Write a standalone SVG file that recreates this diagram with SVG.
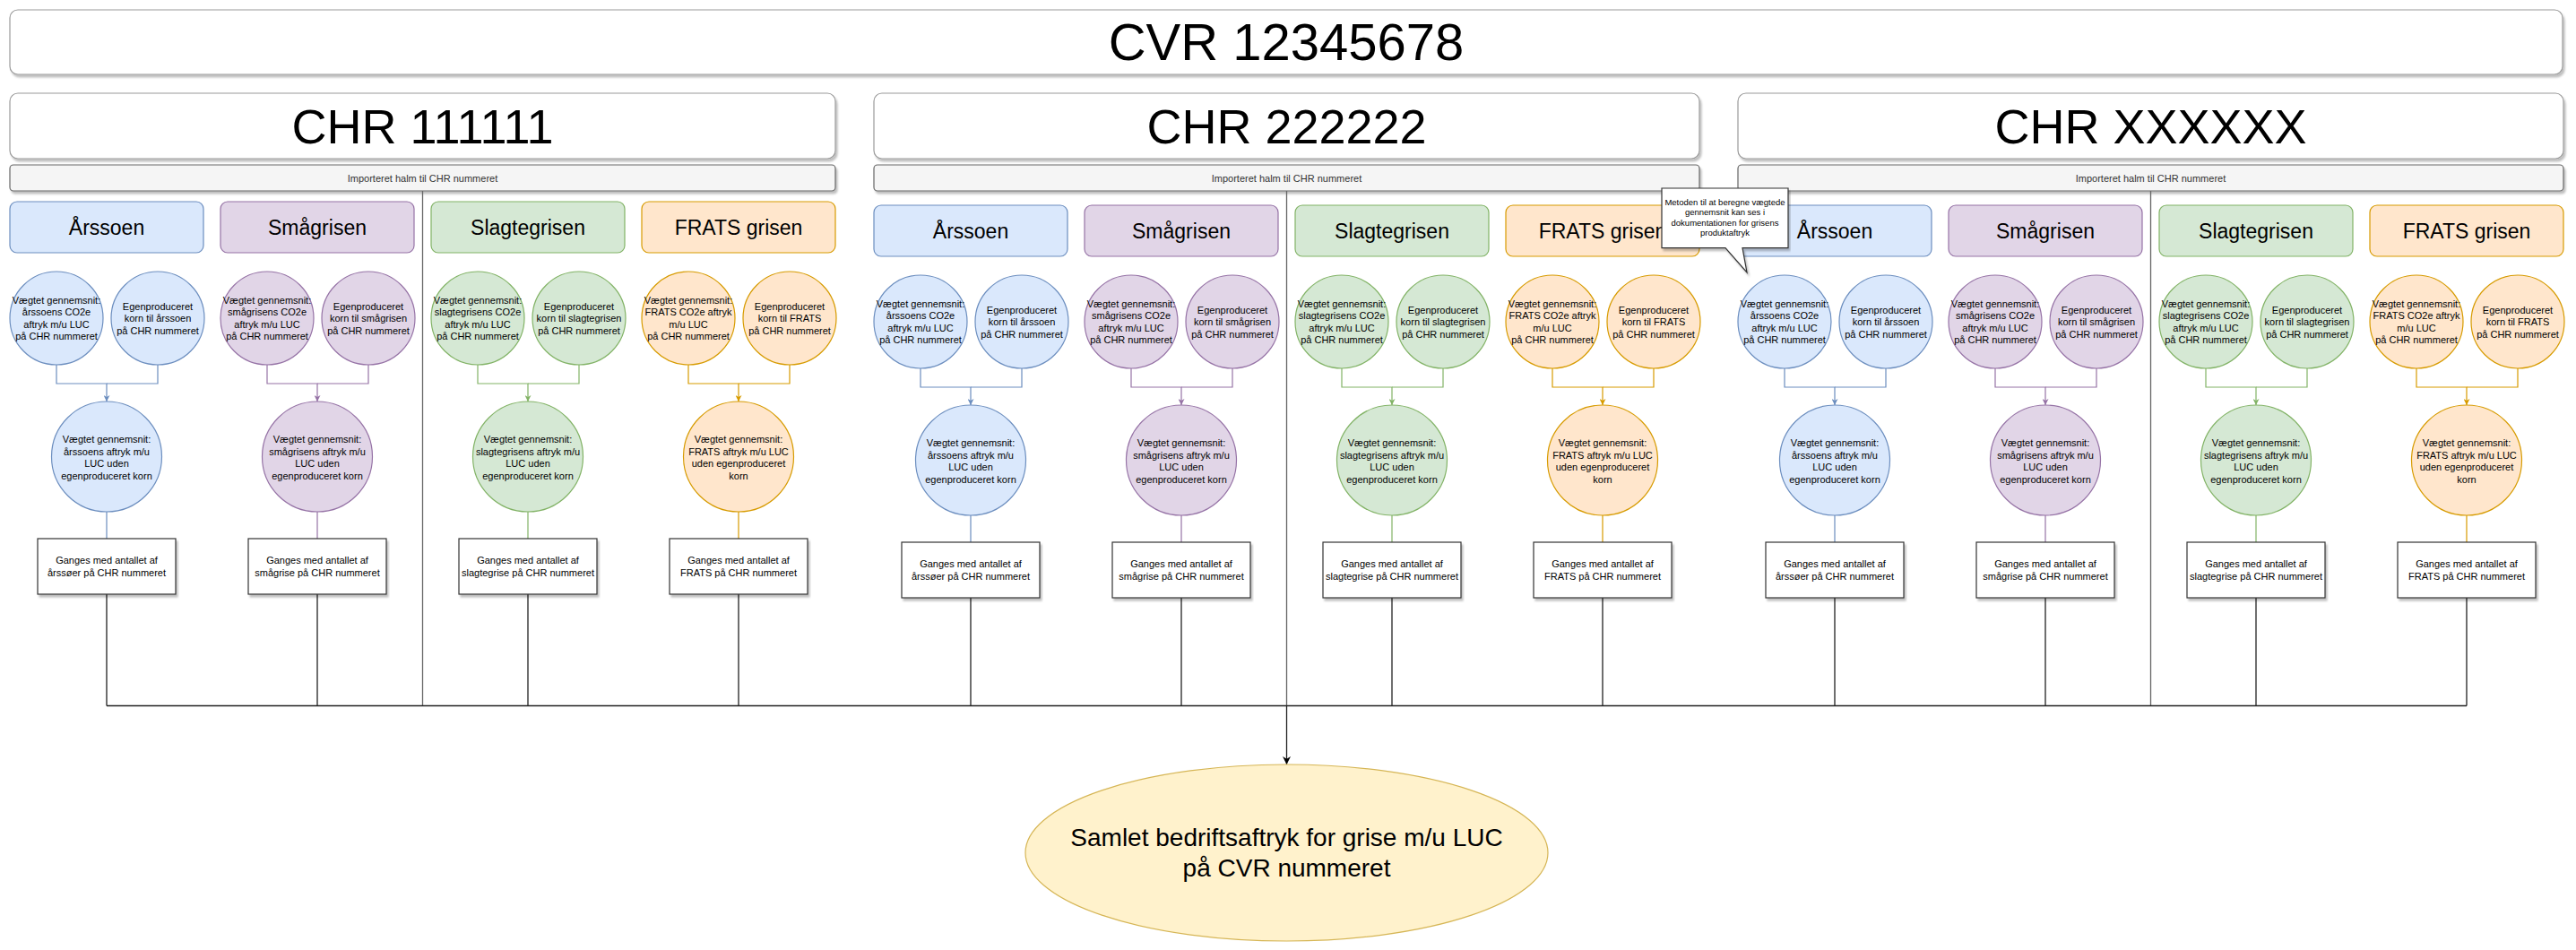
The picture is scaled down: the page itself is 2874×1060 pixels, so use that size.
<svg xmlns="http://www.w3.org/2000/svg" width="2874" height="1060" viewBox="0 0 2874 1060">
<defs>
<style>
.t{font-family:"Liberation Sans",Arial,Helvetica,sans-serif;text-anchor:middle;fill:#000}
.f11{font-size:11px}
.hd{font-size:23px}
.ttl{font-size:54px}
.cvr{font-size:58px}
.fin{font-size:28px}
.cal{font-size:9.5px}
.halmt{font-size:11px;fill:#333}
.frame{fill:#fff;stroke:#9a9a9a;stroke-width:1.2}
.halm{fill:#f5f5f5;stroke:#666;stroke-width:1.2}
.box{fill:#fff;stroke:#333;stroke-width:1.2}
.b{fill:#dae8fc;stroke:#6c8ebf;stroke-width:1.2}
.p{fill:#e1d5e7;stroke:#9673a6;stroke-width:1.2}
.g{fill:#d5e8d4;stroke:#82b366;stroke-width:1.2}
.o{fill:#ffe6cc;stroke:#d79b00;stroke-width:1.2}
.y{fill:#fff2cc;stroke:#d6b656;stroke-width:1.2}
.lb{fill:none;stroke:#6c8ebf;stroke-width:1.2}
.lp{fill:none;stroke:#9673a6;stroke-width:1.2}
.lg{fill:none;stroke:#82b366;stroke-width:1.2}
.lo{fill:none;stroke:#d79b00;stroke-width:1.2}
.lk{fill:none;stroke:#222;stroke-width:1.3}
.div{fill:none;stroke:#666;stroke-width:1.3}
</style>
<filter id="sh" x="-2%" y="-10%" width="104%" height="130%"><feDropShadow dx="2" dy="3" stdDeviation="1.2" flood-color="#000" flood-opacity="0.25"/></filter>
<marker id="ab" viewBox="0 0 10 10" refX="10" refY="5" markerWidth="7" markerHeight="7" markerUnits="userSpaceOnUse" orient="auto"><path d="M0,0L10,5L0,10L3,5z" fill="#6c8ebf"/></marker>
<marker id="ap" viewBox="0 0 10 10" refX="10" refY="5" markerWidth="7" markerHeight="7" markerUnits="userSpaceOnUse" orient="auto"><path d="M0,0L10,5L0,10L3,5z" fill="#9673a6"/></marker>
<marker id="ag" viewBox="0 0 10 10" refX="10" refY="5" markerWidth="7" markerHeight="7" markerUnits="userSpaceOnUse" orient="auto"><path d="M0,0L10,5L0,10L3,5z" fill="#82b366"/></marker>
<marker id="ao" viewBox="0 0 10 10" refX="10" refY="5" markerWidth="7" markerHeight="7" markerUnits="userSpaceOnUse" orient="auto"><path d="M0,0L10,5L0,10L3,5z" fill="#d79b00"/></marker>
<marker id="ak" viewBox="0 0 10 10" refX="10" refY="5" markerWidth="9" markerHeight="9" markerUnits="userSpaceOnUse" orient="auto"><path d="M0,0L10,5L0,10L3,5z" fill="#000"/></marker>
</defs>
<rect width="2874" height="1060" fill="#fff"/>

<!-- CVR -->
<g id="cvr"><rect class="frame" filter="url(#sh)" x="11" y="11" width="2848" height="72" rx="9"/><text class="t cvr" x="1435" y="67">CVR 12345678</text></g>

<!-- CHR frames -->
<g id="chr1"><rect class="frame" filter="url(#sh)" x="11" y="104" width="921" height="73" rx="9"/><text class="t ttl" x="471.5" y="159.5">CHR 111111</text></g>
<g id="chr2"><rect class="frame" filter="url(#sh)" x="975" y="104" width="921" height="73" rx="9"/><text class="t ttl" x="1435.5" y="159.5">CHR 222222</text></g>
<g id="chr3"><rect class="frame" filter="url(#sh)" x="1939" y="104" width="921" height="73" rx="9"/><text class="t ttl" x="2399.5" y="159.5">CHR XXXXXX</text></g>

<g id="halm1"><rect class="halm" filter="url(#sh)" x="11" y="184" width="921" height="29" rx="4"/><text class="t halmt" x="471.5" y="203">Importeret halm til CHR nummeret</text></g>
<g id="halm2"><rect class="halm" filter="url(#sh)" x="975" y="184" width="921" height="29" rx="4"/><text class="t halmt" x="1435.5" y="203">Importeret halm til CHR nummeret</text></g>
<g id="halm3"><rect class="halm" filter="url(#sh)" x="1939" y="184" width="921" height="29" rx="4"/><text class="t halmt" x="2399.5" y="203">Importeret halm til CHR nummeret</text></g>

<!-- Connectors -->
<g id="connectors">
<path class="div" d="M471.5,213V787.5M1435.5,213V787.5M2399.5,213V787.5"/>
<path class="lk" d="M119,787.5H2752"/>
<path class="lk" d="M119,663V787.5M354,663V787.5M589,663V787.5M824,663V787.5"/>
<path class="lk" d="M1083,667V787.5M1318,667V787.5M1553,667V787.5M1788,667V787.5"/>
<path class="lk" d="M2047,667V787.5M2282,667V787.5M2517,667V787.5M2752,667V787.5"/>
<path class="lk" d="M1435.5,787.5V853" marker-end="url(#ak)"/>
<g transform="translate(11,0)"><path class="lb" d="M52,407V428H108V448" marker-end="url(#ab)"/><path class="lb" d="M165,407V428H108M108,571V601"/></g>
<g transform="translate(246,0)"><path class="lp" d="M52,407V428H108V448" marker-end="url(#ap)"/><path class="lp" d="M165,407V428H108M108,571V601"/></g>
<g transform="translate(481,0)"><path class="lg" d="M52,407V428H108V448" marker-end="url(#ag)"/><path class="lg" d="M165,407V428H108M108,571V601"/></g>
<g transform="translate(716,0)"><path class="lo" d="M52,407V428H108V448" marker-end="url(#ao)"/><path class="lo" d="M165,407V428H108M108,571V601"/></g>
<g transform="translate(975,4)"><path class="lb" d="M52,407V428H108V448" marker-end="url(#ab)"/><path class="lb" d="M165,407V428H108M108,571V601"/></g>
<g transform="translate(1210,4)"><path class="lp" d="M52,407V428H108V448" marker-end="url(#ap)"/><path class="lp" d="M165,407V428H108M108,571V601"/></g>
<g transform="translate(1445,4)"><path class="lg" d="M52,407V428H108V448" marker-end="url(#ag)"/><path class="lg" d="M165,407V428H108M108,571V601"/></g>
<g transform="translate(1680,4)"><path class="lo" d="M52,407V428H108V448" marker-end="url(#ao)"/><path class="lo" d="M165,407V428H108M108,571V601"/></g>
<g transform="translate(1939,4)"><path class="lb" d="M52,407V428H108V448" marker-end="url(#ab)"/><path class="lb" d="M165,407V428H108M108,571V601"/></g>
<g transform="translate(2174,4)"><path class="lp" d="M52,407V428H108V448" marker-end="url(#ap)"/><path class="lp" d="M165,407V428H108M108,571V601"/></g>
<g transform="translate(2409,4)"><path class="lg" d="M52,407V428H108V448" marker-end="url(#ag)"/><path class="lg" d="M165,407V428H108M108,571V601"/></g>
<g transform="translate(2644,4)"><path class="lo" d="M52,407V428H108V448" marker-end="url(#ao)"/><path class="lo" d="M165,407V428H108M108,571V601"/></g>
</g>

<!-- CHR 1 groups -->
<g id="c1-arssoen" transform="translate(11,0)">
<g id="c1-a-head"><rect class="b" x="0" y="225" width="216" height="57" rx="8"/><text class="t hd" x="108" y="262">Årssoen</text></g>
<g id="c1-a-l"><circle class="b" cx="52" cy="355" r="52"/><text class="t f11"><tspan x="52" y="339">Vægtet gennemsnit:</tspan><tspan x="52" y="352.3">årssoens CO2e</tspan><tspan x="52" y="365.7">aftryk m/u LUC</tspan><tspan x="52" y="379">på CHR nummeret</tspan></text></g>
<g id="c1-a-r"><circle class="b" cx="165" cy="355" r="52"/><text class="t f11"><tspan x="165" y="346">Egenproduceret</tspan><tspan x="165" y="359.3">korn til årssoen</tspan><tspan x="165" y="372.7">på CHR nummeret</tspan></text></g>
<g id="c1-a-m"><circle class="b" cx="108" cy="509.5" r="61.5"/><text class="t f11"><tspan x="108" y="494">Vægtet gennemsnit:</tspan><tspan x="108" y="507.6">årssoens aftryk m/u</tspan><tspan x="108" y="521.2">LUC uden</tspan><tspan x="108" y="534.8">egenproduceret korn</tspan></text></g>
<g id="c1-a-box"><rect class="box" filter="url(#sh)" x="31" y="601" width="154" height="62"/><text class="t f11"><tspan x="108" y="629">Ganges med antallet af</tspan><tspan x="108" y="643">årssøer på CHR nummeret</tspan></text></g>
</g>
<g id="c1-smagrisen" transform="translate(246,0)">
<g id="c1-s-head"><rect class="p" x="0" y="225" width="216" height="57" rx="8"/><text class="t hd" x="108" y="262">Smågrisen</text></g>
<g id="c1-s-l"><circle class="p" cx="52" cy="355" r="52"/><text class="t f11"><tspan x="52" y="339">Vægtet gennemsnit:</tspan><tspan x="52" y="352.3">smågrisens CO2e</tspan><tspan x="52" y="365.7">aftryk m/u LUC</tspan><tspan x="52" y="379">på CHR nummeret</tspan></text></g>
<g id="c1-s-r"><circle class="p" cx="165" cy="355" r="52"/><text class="t f11"><tspan x="165" y="346">Egenproduceret</tspan><tspan x="165" y="359.3">korn til smågrisen</tspan><tspan x="165" y="372.7">på CHR nummeret</tspan></text></g>
<g id="c1-s-m"><circle class="p" cx="108" cy="509.5" r="61.5"/><text class="t f11"><tspan x="108" y="494">Vægtet gennemsnit:</tspan><tspan x="108" y="507.6">smågrisens aftryk m/u</tspan><tspan x="108" y="521.2">LUC uden</tspan><tspan x="108" y="534.8">egenproduceret korn</tspan></text></g>
<g id="c1-s-box"><rect class="box" filter="url(#sh)" x="31" y="601" width="154" height="62"/><text class="t f11"><tspan x="108" y="629">Ganges med antallet af</tspan><tspan x="108" y="643">smågrise på CHR nummeret</tspan></text></g>
</g>
<g id="c1-slagtegrisen" transform="translate(481,0)">
<g id="c1-g-head"><rect class="g" x="0" y="225" width="216" height="57" rx="8"/><text class="t hd" x="108" y="262">Slagtegrisen</text></g>
<g id="c1-g-l"><circle class="g" cx="52" cy="355" r="52"/><text class="t f11"><tspan x="52" y="339">Vægtet gennemsnit:</tspan><tspan x="52" y="352.3">slagtegrisens CO2e</tspan><tspan x="52" y="365.7">aftryk m/u LUC</tspan><tspan x="52" y="379">på CHR nummeret</tspan></text></g>
<g id="c1-g-r"><circle class="g" cx="165" cy="355" r="52"/><text class="t f11"><tspan x="165" y="346">Egenproduceret</tspan><tspan x="165" y="359.3">korn til slagtegrisen</tspan><tspan x="165" y="372.7">på CHR nummeret</tspan></text></g>
<g id="c1-g-m"><circle class="g" cx="108" cy="509.5" r="61.5"/><text class="t f11"><tspan x="108" y="494">Vægtet gennemsnit:</tspan><tspan x="108" y="507.6">slagtegrisens aftryk m/u</tspan><tspan x="108" y="521.2">LUC uden</tspan><tspan x="108" y="534.8">egenproduceret korn</tspan></text></g>
<g id="c1-g-box"><rect class="box" filter="url(#sh)" x="31" y="601" width="154" height="62"/><text class="t f11"><tspan x="108" y="629">Ganges med antallet af</tspan><tspan x="108" y="643">slagtegrise på CHR nummeret</tspan></text></g>
</g>
<g id="c1-frats" transform="translate(716,0)">
<g id="c1-f-head"><rect class="o" x="0" y="225" width="216" height="57" rx="8"/><text class="t hd" x="108" y="262">FRATS grisen</text></g>
<g id="c1-f-l"><circle class="o" cx="52" cy="355" r="52"/><text class="t f11"><tspan x="52" y="339">Vægtet gennemsnit:</tspan><tspan x="52" y="352.3">FRATS CO2e aftryk</tspan><tspan x="52" y="365.7">m/u LUC</tspan><tspan x="52" y="379">på CHR nummeret</tspan></text></g>
<g id="c1-f-r"><circle class="o" cx="165" cy="355" r="52"/><text class="t f11"><tspan x="165" y="346">Egenproduceret</tspan><tspan x="165" y="359.3">korn til FRATS</tspan><tspan x="165" y="372.7">på CHR nummeret</tspan></text></g>
<g id="c1-f-m"><circle class="o" cx="108" cy="509.5" r="61.5"/><text class="t f11"><tspan x="108" y="494">Vægtet gennemsnit:</tspan><tspan x="108" y="507.6">FRATS aftryk m/u LUC</tspan><tspan x="108" y="521.2">uden egenproduceret</tspan><tspan x="108" y="534.8">korn</tspan></text></g>
<g id="c1-f-box"><rect class="box" filter="url(#sh)" x="31" y="601" width="154" height="62"/><text class="t f11"><tspan x="108" y="629">Ganges med antallet af</tspan><tspan x="108" y="643">FRATS på CHR nummeret</tspan></text></g>
</g>

<!-- CHR 2 groups -->
<g id="c2-arssoen" transform="translate(975,4)">
<g id="c2-a-head"><rect class="b" x="0" y="225" width="216" height="57" rx="8"/><text class="t hd" x="108" y="262">Årssoen</text></g>
<g id="c2-a-l"><circle class="b" cx="52" cy="355" r="52"/><text class="t f11"><tspan x="52" y="339">Vægtet gennemsnit:</tspan><tspan x="52" y="352.3">årssoens CO2e</tspan><tspan x="52" y="365.7">aftryk m/u LUC</tspan><tspan x="52" y="379">på CHR nummeret</tspan></text></g>
<g id="c2-a-r"><circle class="b" cx="165" cy="355" r="52"/><text class="t f11"><tspan x="165" y="346">Egenproduceret</tspan><tspan x="165" y="359.3">korn til årssoen</tspan><tspan x="165" y="372.7">på CHR nummeret</tspan></text></g>
<g id="c2-a-m"><circle class="b" cx="108" cy="509.5" r="61.5"/><text class="t f11"><tspan x="108" y="494">Vægtet gennemsnit:</tspan><tspan x="108" y="507.6">årssoens aftryk m/u</tspan><tspan x="108" y="521.2">LUC uden</tspan><tspan x="108" y="534.8">egenproduceret korn</tspan></text></g>
<g id="c2-a-box"><rect class="box" filter="url(#sh)" x="31" y="601" width="154" height="62"/><text class="t f11"><tspan x="108" y="629">Ganges med antallet af</tspan><tspan x="108" y="643">årssøer på CHR nummeret</tspan></text></g>
</g>
<g id="c2-smagrisen" transform="translate(1210,4)">
<g id="c2-s-head"><rect class="p" x="0" y="225" width="216" height="57" rx="8"/><text class="t hd" x="108" y="262">Smågrisen</text></g>
<g id="c2-s-l"><circle class="p" cx="52" cy="355" r="52"/><text class="t f11"><tspan x="52" y="339">Vægtet gennemsnit:</tspan><tspan x="52" y="352.3">smågrisens CO2e</tspan><tspan x="52" y="365.7">aftryk m/u LUC</tspan><tspan x="52" y="379">på CHR nummeret</tspan></text></g>
<g id="c2-s-r"><circle class="p" cx="165" cy="355" r="52"/><text class="t f11"><tspan x="165" y="346">Egenproduceret</tspan><tspan x="165" y="359.3">korn til smågrisen</tspan><tspan x="165" y="372.7">på CHR nummeret</tspan></text></g>
<g id="c2-s-m"><circle class="p" cx="108" cy="509.5" r="61.5"/><text class="t f11"><tspan x="108" y="494">Vægtet gennemsnit:</tspan><tspan x="108" y="507.6">smågrisens aftryk m/u</tspan><tspan x="108" y="521.2">LUC uden</tspan><tspan x="108" y="534.8">egenproduceret korn</tspan></text></g>
<g id="c2-s-box"><rect class="box" filter="url(#sh)" x="31" y="601" width="154" height="62"/><text class="t f11"><tspan x="108" y="629">Ganges med antallet af</tspan><tspan x="108" y="643">smågrise på CHR nummeret</tspan></text></g>
</g>
<g id="c2-slagtegrisen" transform="translate(1445,4)">
<g id="c2-g-head"><rect class="g" x="0" y="225" width="216" height="57" rx="8"/><text class="t hd" x="108" y="262">Slagtegrisen</text></g>
<g id="c2-g-l"><circle class="g" cx="52" cy="355" r="52"/><text class="t f11"><tspan x="52" y="339">Vægtet gennemsnit:</tspan><tspan x="52" y="352.3">slagtegrisens CO2e</tspan><tspan x="52" y="365.7">aftryk m/u LUC</tspan><tspan x="52" y="379">på CHR nummeret</tspan></text></g>
<g id="c2-g-r"><circle class="g" cx="165" cy="355" r="52"/><text class="t f11"><tspan x="165" y="346">Egenproduceret</tspan><tspan x="165" y="359.3">korn til slagtegrisen</tspan><tspan x="165" y="372.7">på CHR nummeret</tspan></text></g>
<g id="c2-g-m"><circle class="g" cx="108" cy="509.5" r="61.5"/><text class="t f11"><tspan x="108" y="494">Vægtet gennemsnit:</tspan><tspan x="108" y="507.6">slagtegrisens aftryk m/u</tspan><tspan x="108" y="521.2">LUC uden</tspan><tspan x="108" y="534.8">egenproduceret korn</tspan></text></g>
<g id="c2-g-box"><rect class="box" filter="url(#sh)" x="31" y="601" width="154" height="62"/><text class="t f11"><tspan x="108" y="629">Ganges med antallet af</tspan><tspan x="108" y="643">slagtegrise på CHR nummeret</tspan></text></g>
</g>
<g id="c2-frats" transform="translate(1680,4)">
<g id="c2-f-head"><rect class="o" x="0" y="225" width="216" height="57" rx="8"/><text class="t hd" x="108" y="262">FRATS grisen</text></g>
<g id="c2-f-l"><circle class="o" cx="52" cy="355" r="52"/><text class="t f11"><tspan x="52" y="339">Vægtet gennemsnit:</tspan><tspan x="52" y="352.3">FRATS CO2e aftryk</tspan><tspan x="52" y="365.7">m/u LUC</tspan><tspan x="52" y="379">på CHR nummeret</tspan></text></g>
<g id="c2-f-r"><circle class="o" cx="165" cy="355" r="52"/><text class="t f11"><tspan x="165" y="346">Egenproduceret</tspan><tspan x="165" y="359.3">korn til FRATS</tspan><tspan x="165" y="372.7">på CHR nummeret</tspan></text></g>
<g id="c2-f-m"><circle class="o" cx="108" cy="509.5" r="61.5"/><text class="t f11"><tspan x="108" y="494">Vægtet gennemsnit:</tspan><tspan x="108" y="507.6">FRATS aftryk m/u LUC</tspan><tspan x="108" y="521.2">uden egenproduceret</tspan><tspan x="108" y="534.8">korn</tspan></text></g>
<g id="c2-f-box"><rect class="box" filter="url(#sh)" x="31" y="601" width="154" height="62"/><text class="t f11"><tspan x="108" y="629">Ganges med antallet af</tspan><tspan x="108" y="643">FRATS på CHR nummeret</tspan></text></g>
</g>

<!-- CHR 3 groups -->
<g id="c3-arssoen" transform="translate(1939,4)">
<g id="c3-a-head"><rect class="b" x="0" y="225" width="216" height="57" rx="8"/><text class="t hd" x="108" y="262">Årssoen</text></g>
<g id="c3-a-l"><circle class="b" cx="52" cy="355" r="52"/><text class="t f11"><tspan x="52" y="339">Vægtet gennemsnit:</tspan><tspan x="52" y="352.3">årssoens CO2e</tspan><tspan x="52" y="365.7">aftryk m/u LUC</tspan><tspan x="52" y="379">på CHR nummeret</tspan></text></g>
<g id="c3-a-r"><circle class="b" cx="165" cy="355" r="52"/><text class="t f11"><tspan x="165" y="346">Egenproduceret</tspan><tspan x="165" y="359.3">korn til årssoen</tspan><tspan x="165" y="372.7">på CHR nummeret</tspan></text></g>
<g id="c3-a-m"><circle class="b" cx="108" cy="509.5" r="61.5"/><text class="t f11"><tspan x="108" y="494">Vægtet gennemsnit:</tspan><tspan x="108" y="507.6">årssoens aftryk m/u</tspan><tspan x="108" y="521.2">LUC uden</tspan><tspan x="108" y="534.8">egenproduceret korn</tspan></text></g>
<g id="c3-a-box"><rect class="box" filter="url(#sh)" x="31" y="601" width="154" height="62"/><text class="t f11"><tspan x="108" y="629">Ganges med antallet af</tspan><tspan x="108" y="643">årssøer på CHR nummeret</tspan></text></g>
</g>
<g id="c3-smagrisen" transform="translate(2174,4)">
<g id="c3-s-head"><rect class="p" x="0" y="225" width="216" height="57" rx="8"/><text class="t hd" x="108" y="262">Smågrisen</text></g>
<g id="c3-s-l"><circle class="p" cx="52" cy="355" r="52"/><text class="t f11"><tspan x="52" y="339">Vægtet gennemsnit:</tspan><tspan x="52" y="352.3">smågrisens CO2e</tspan><tspan x="52" y="365.7">aftryk m/u LUC</tspan><tspan x="52" y="379">på CHR nummeret</tspan></text></g>
<g id="c3-s-r"><circle class="p" cx="165" cy="355" r="52"/><text class="t f11"><tspan x="165" y="346">Egenproduceret</tspan><tspan x="165" y="359.3">korn til smågrisen</tspan><tspan x="165" y="372.7">på CHR nummeret</tspan></text></g>
<g id="c3-s-m"><circle class="p" cx="108" cy="509.5" r="61.5"/><text class="t f11"><tspan x="108" y="494">Vægtet gennemsnit:</tspan><tspan x="108" y="507.6">smågrisens aftryk m/u</tspan><tspan x="108" y="521.2">LUC uden</tspan><tspan x="108" y="534.8">egenproduceret korn</tspan></text></g>
<g id="c3-s-box"><rect class="box" filter="url(#sh)" x="31" y="601" width="154" height="62"/><text class="t f11"><tspan x="108" y="629">Ganges med antallet af</tspan><tspan x="108" y="643">smågrise på CHR nummeret</tspan></text></g>
</g>
<g id="c3-slagtegrisen" transform="translate(2409,4)">
<g id="c3-g-head"><rect class="g" x="0" y="225" width="216" height="57" rx="8"/><text class="t hd" x="108" y="262">Slagtegrisen</text></g>
<g id="c3-g-l"><circle class="g" cx="52" cy="355" r="52"/><text class="t f11"><tspan x="52" y="339">Vægtet gennemsnit:</tspan><tspan x="52" y="352.3">slagtegrisens CO2e</tspan><tspan x="52" y="365.7">aftryk m/u LUC</tspan><tspan x="52" y="379">på CHR nummeret</tspan></text></g>
<g id="c3-g-r"><circle class="g" cx="165" cy="355" r="52"/><text class="t f11"><tspan x="165" y="346">Egenproduceret</tspan><tspan x="165" y="359.3">korn til slagtegrisen</tspan><tspan x="165" y="372.7">på CHR nummeret</tspan></text></g>
<g id="c3-g-m"><circle class="g" cx="108" cy="509.5" r="61.5"/><text class="t f11"><tspan x="108" y="494">Vægtet gennemsnit:</tspan><tspan x="108" y="507.6">slagtegrisens aftryk m/u</tspan><tspan x="108" y="521.2">LUC uden</tspan><tspan x="108" y="534.8">egenproduceret korn</tspan></text></g>
<g id="c3-g-box"><rect class="box" filter="url(#sh)" x="31" y="601" width="154" height="62"/><text class="t f11"><tspan x="108" y="629">Ganges med antallet af</tspan><tspan x="108" y="643">slagtegrise på CHR nummeret</tspan></text></g>
</g>
<g id="c3-frats" transform="translate(2644,4)">
<g id="c3-f-head"><rect class="o" x="0" y="225" width="216" height="57" rx="8"/><text class="t hd" x="108" y="262">FRATS grisen</text></g>
<g id="c3-f-l"><circle class="o" cx="52" cy="355" r="52"/><text class="t f11"><tspan x="52" y="339">Vægtet gennemsnit:</tspan><tspan x="52" y="352.3">FRATS CO2e aftryk</tspan><tspan x="52" y="365.7">m/u LUC</tspan><tspan x="52" y="379">på CHR nummeret</tspan></text></g>
<g id="c3-f-r"><circle class="o" cx="165" cy="355" r="52"/><text class="t f11"><tspan x="165" y="346">Egenproduceret</tspan><tspan x="165" y="359.3">korn til FRATS</tspan><tspan x="165" y="372.7">på CHR nummeret</tspan></text></g>
<g id="c3-f-m"><circle class="o" cx="108" cy="509.5" r="61.5"/><text class="t f11"><tspan x="108" y="494">Vægtet gennemsnit:</tspan><tspan x="108" y="507.6">FRATS aftryk m/u LUC</tspan><tspan x="108" y="521.2">uden egenproduceret</tspan><tspan x="108" y="534.8">korn</tspan></text></g>
<g id="c3-f-box"><rect class="box" filter="url(#sh)" x="31" y="601" width="154" height="62"/><text class="t f11"><tspan x="108" y="629">Ganges med antallet af</tspan><tspan x="108" y="643">FRATS på CHR nummeret</tspan></text></g>
</g>

<!-- Callout -->
<g id="callout"><path class="box" filter="url(#sh)" d="M1854,210H1995V276.7H1944L1949,304L1925,276.7H1854Z"/><text class="t cal"><tspan x="1924.5" y="228.5">Metoden til at beregne vægtede</tspan><tspan x="1924.5" y="240">gennemsnit kan ses i</tspan><tspan x="1924.5" y="251.5">dokumentationen for grisens</tspan><tspan x="1924.5" y="263">produktaftryk</tspan></text></g>

<!-- Final -->
<g id="samlet"><ellipse class="y" cx="1435.5" cy="951.5" rx="291.5" ry="98.5"/><text class="t fin"><tspan x="1435.5" y="944">Samlet bedriftsaftryk for grise m/u LUC</tspan><tspan x="1435.5" y="978">på CVR nummeret</tspan></text></g>
</svg>
